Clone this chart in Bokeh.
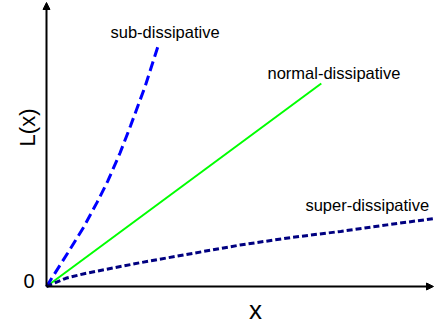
from math import pi
from bokeh.plotting import figure
from bokeh.models import Arrow, NormalHead, Label, Range1d
from bokeh.embed import file_html
from bokeh.resources import INLINE

# Curves (arbitrary units)
sub_x = [0, 0.54, 0.96, 1.31, 1.58, 1.90, 2.17, 2.55, 2.89]
sub_y = [0, 1.16, 2.09, 2.97, 3.70, 4.70, 5.65, 7.05, 8.50]

normal_x = [0, 7.1]
normal_y = [0, 7.15]

super_x = [0, 0.5, 1.0, 2.43, 3.5, 5.0, 6.3, 7.6, 8.8, 10.0]
super_y = [0, 0.29, 0.46, 0.84, 1.10, 1.46, 1.72, 1.94, 2.17, 2.39]

series_labels = ["sub-dissipative", "normal-dissipative", "super-dissipative"]

FONT = "Liberation Sans"

p = figure(width=442, height=336, output_backend="svg", toolbar_location=None,
           x_axis_type=None, y_axis_type=None, min_border=0,
           x_range=Range1d(-1.3953, 10.026), y_range=Range1d(-1.479, 10.352),
           styles={"margin": "-8px -8px -8px -8px"})
p.outline_line_color = None
p.background_fill_color = "white"
p.border_fill_color = "white"

# axes with arrow heads
p.add_layout(Arrow(end=NormalHead(size=7, fill_color="black", line_color="black", line_width=1),
                   x_start=0, y_start=0, x_end=10.0, y_end=0, line_width=2, line_color="black"))
p.add_layout(Arrow(end=NormalHead(size=7, fill_color="black", line_color="black", line_width=1),
                   x_start=0, y_start=0, x_end=0, y_end=10.0, line_width=2, line_color="black"))

p.line(normal_x, normal_y, line_color="#00ff00", line_width=2)
p.line(sub_x, sub_y, line_color="#0000ff", line_width=3, line_dash="10 5")
p.line(super_x, super_y, line_color="#000080", line_width=3, line_dash="6 3")

p.add_layout(Label(x=1.654, y=8.95, text=series_labels[0], text_font=FONT, text_color="black",
                   text_font_size="16.5px", text_align="left", text_baseline="alphabetic"))
p.add_layout(Label(x=5.71, y=7.5, text=series_labels[1], text_font=FONT, text_color="black",
                   text_font_size="16.5px", text_align="left", text_baseline="alphabetic"))
p.add_layout(Label(x=6.69, y=2.86, text=series_labels[2], text_font=FONT, text_color="black",
                   text_font_size="16.5px", text_align="left", text_baseline="alphabetic"))

p.add_layout(Label(x=-0.478, y=5.6, text="L(x)", angle=pi/2, text_font=FONT, text_color="black",
                   text_font_size="22px", text_align="center", text_baseline="middle"))
p.add_layout(Label(x=5.4, y=-0.81, text="x", text_font=FONT, text_color="black",
                   text_font_size="26px", text_align="center", text_baseline="middle"))
p.add_layout(Label(x=-0.452, y=0.21, text="0", text_font=FONT, text_color="black",
                   text_font_size="20px", text_align="center", text_baseline="middle"))

open("out.html", "w").write(file_html(p, INLINE))
